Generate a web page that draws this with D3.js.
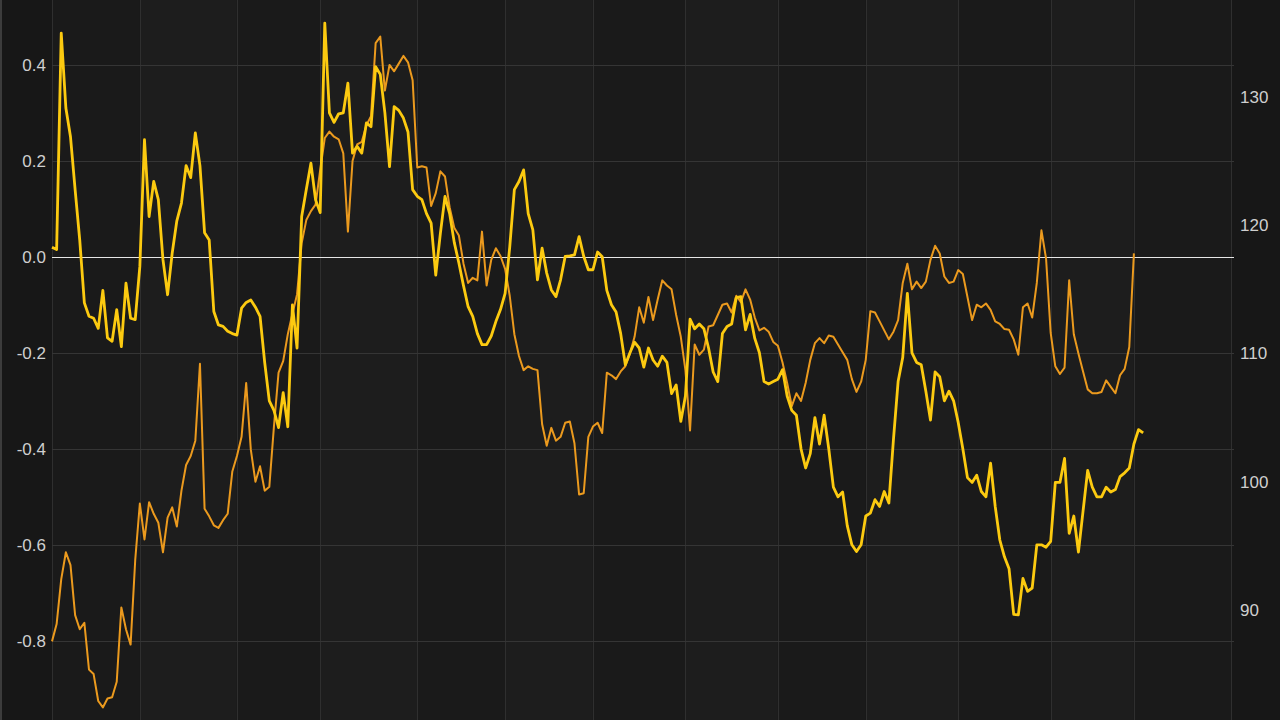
<!DOCTYPE html>
<html>
<head>
<meta charset="utf-8">
<script src="https://cdn.jsdelivr.net/npm/d3@7/dist/d3.min.js"></script>
<style>
  html, body { margin: 0; padding: 0; background: #171717; overflow: hidden; }
  svg { display: block; }
</style>
</head>
<body>
<svg id="chart" width="1280" height="720"></svg>
<script>
// ---- data ----
// trading-day index of the monthly vertical gridlines
const gridDays = [0, 19, 40, 58, 79, 98, 117, 137, 157, 176, 196, 216, 234, 255];
const leftTicks = [-0.8, -0.6, -0.4, -0.2, 0.0, 0.2, 0.4];
const rightTicks = [90, 100, 110, 120, 130];

// yellow series (left axis), one value per trading day
const yellowSeries = [
  0.02, 0.015, 0.466, 0.31, 0.25, 0.14, 0.035, -0.096, -0.124, -0.128,
  -0.149, -0.07, -0.169, -0.176, -0.11, -0.187, -0.055, -0.128, -0.131, -0.02,
  0.244, 0.084, 0.157, 0.119, -0.006, -0.079, 0.008, 0.075, 0.112, 0.19,
  0.165, 0.258, 0.19, 0.05, 0.035, -0.114, -0.142, -0.145, -0.155, -0.16,
  -0.163, -0.107, -0.095, -0.09, -0.105, -0.124, -0.22, -0.3, -0.32, -0.356,
  -0.283, -0.354, -0.1, -0.19, 0.084, 0.14, 0.195, 0.119, 0.092, 0.487,
  0.3, 0.28, 0.298, 0.3, 0.362, 0.216, 0.23, 0.216, 0.279, 0.271,
  0.396, 0.38, 0.3, 0.188, 0.313, 0.305, 0.289, 0.26, 0.14, 0.126,
  0.119, 0.09, 0.07, -0.038, 0.049, 0.126, 0.09, 0.03, -0.013, -0.06,
  -0.104, -0.124, -0.16, -0.183, -0.183, -0.165, -0.135, -0.11, -0.076, 0.02,
  0.14, 0.157, 0.181, 0.09, 0.056, -0.048, 0.018, -0.034, -0.069, -0.083,
  -0.048, 0.001, 0.002, 0.004, 0.042, 0.001, -0.027, -0.027, 0.01, 0.0,
  -0.07, -0.1, -0.115, -0.16, -0.225, -0.2, -0.178, -0.19, -0.23, -0.19,
  -0.215, -0.228, -0.207, -0.22, -0.285, -0.267, -0.343, -0.29, -0.13, -0.15,
  -0.14, -0.15, -0.19, -0.24, -0.26, -0.16, -0.145, -0.14, -0.085, -0.083,
  -0.152, -0.12, -0.17, -0.2, -0.26, -0.265, -0.26, -0.255, -0.235, -0.29,
  -0.32, -0.33, -0.4, -0.44, -0.41, -0.335, -0.39, -0.33, -0.4, -0.48,
  -0.5, -0.49, -0.56, -0.6, -0.614, -0.6, -0.54, -0.534, -0.506, -0.52,
  -0.489, -0.513, -0.38, -0.26, -0.21, -0.076, -0.2, -0.22, -0.225, -0.28,
  -0.34, -0.24, -0.25, -0.3, -0.28, -0.3, -0.345, -0.4, -0.46, -0.47,
  -0.455, -0.489, -0.5, -0.43, -0.52, -0.59, -0.625, -0.65, -0.745, -0.746,
  -0.67, -0.697, -0.69, -0.6, -0.6, -0.605, -0.593, -0.47, -0.47, -0.42,
  -0.576, -0.54, -0.615, -0.53, -0.445, -0.48, -0.5, -0.5, -0.48, -0.49,
  -0.485, -0.458, -0.45, -0.44, -0.39, -0.36, -0.367
];

// orange series (right axis), one value per trading day
const orangeSeries = [
  87.55, 88.9, 92.4, 94.5, 93.5, 89.6, 88.5, 89.0, 85.35, 85.0,
  82.9, 82.4, 83.1, 83.2, 84.4, 90.2, 88.5, 87.3, 93.9, 98.3,
  95.5, 98.4, 97.5, 96.8, 94.5, 97.2, 98.0, 96.5, 99.3, 101.3,
  102.0, 103.2, 109.2, 97.9, 97.3, 96.6, 96.4, 97.0, 97.5, 100.8,
  102.0, 103.5, 107.7, 102.5, 100.0, 101.2, 99.3, 99.6, 104.3, 108.5,
  109.4, 111.5, 113.1, 114.6, 118.6, 120.4, 121.1, 121.6, 124.3, 126.8,
  127.3, 126.9, 126.7, 125.6, 119.5, 125.0, 126.3, 126.5, 127.8, 128.5,
  134.2, 134.7, 130.5, 132.5, 132.0, 132.6, 133.2, 132.7, 131.3, 124.5,
  124.6, 124.5, 121.5, 122.5, 124.2, 123.8, 121.4, 119.8, 119.2, 117.0,
  115.5, 115.9, 115.7, 119.5, 115.3, 117.3, 118.2, 117.6, 116.6, 114.5,
  111.5, 109.8, 108.7, 109.0, 108.8, 108.7, 104.5, 102.8, 104.2, 103.2,
  103.5, 104.6, 104.7, 103.0, 99.0, 99.1, 103.5, 104.3, 104.6, 103.8,
  108.5, 108.3, 108.0, 108.6, 109.0, 110.0, 111.3, 113.6, 112.4, 114.4,
  112.6, 114.2, 115.7, 115.3, 115.0, 113.0, 111.3, 108.7, 104.0, 110.7,
  109.9, 110.3, 112.1, 112.2, 113.0, 113.8, 113.9, 113.2, 114.5, 114.0,
  115.0, 114.2, 112.8, 111.8, 112.0, 111.7, 110.9, 110.6, 109.3, 107.7,
  105.9, 106.9, 106.3, 107.7, 109.5, 110.8, 111.2, 110.8, 111.4, 111.3,
  110.7, 110.1, 109.5, 108.0, 107.0, 107.8, 109.5, 113.3, 113.2, 112.5,
  111.8, 111.1, 111.7, 112.6, 115.5, 117.0, 115.0, 115.6, 115.1, 115.6,
  117.3, 118.4, 117.8, 116.0, 115.5, 115.6, 116.5, 116.2, 114.4, 112.6,
  113.8, 113.6, 113.9, 113.4, 112.5, 112.3, 111.9, 111.85, 111.1, 109.9,
  113.6, 113.9, 112.8, 115.5, 119.6, 117.4, 111.6, 109.0, 108.4, 108.9,
  115.7, 111.5, 110.0, 108.6, 107.2, 106.9, 106.9, 107.0, 107.9, 107.4,
  106.9, 108.3, 108.8, 110.5, 117.8
];

// ---- layout ----
const W = 1280, H = 720;
const plotLeft = 52, plotRight = 1231;

const svg = d3.select('#chart');

const x = d3.scaleLinear().domain([0, 255]).range([plotLeft, plotRight]);
const yL = d3.scaleLinear().domain([-0.965, 0.535]).range([H, 0]);
const yR = d3.scaleLinear().domain([81.42, 137.56]).range([H, 0]);

// alternating vertical bands
const bands = d3.pairs(gridDays);
svg.append('g').selectAll('rect').data(bands).join('rect')
  .attr('x', d => x(d[0]))
  .attr('y', 0)
  .attr('width', d => x(d[1]) - x(d[0]))
  .attr('height', H)
  .attr('fill', (d, i) => i % 2 ? '#1d1d1d' : '#1a1a1a');

// left edge strip
svg.append('rect').attr('x', 0).attr('y', 0).attr('width', 2).attr('height', H).attr('fill', '#3c3c3c');

// vertical gridlines
svg.append('g').selectAll('line').data(gridDays).join('line')
  .attr('x1', d => Math.round(x(d)) + 0.5).attr('x2', d => Math.round(x(d)) + 0.5)
  .attr('y1', 0).attr('y2', H)
  .attr('stroke', '#2f2f2f').attr('stroke-width', 1);

// horizontal gridlines (left axis ticks)
svg.append('g').selectAll('line').data(leftTicks.filter(t => t !== 0)).join('line')
  .attr('x1', plotLeft).attr('x2', plotRight + 3)
  .attr('y1', d => Math.round(yL(d)) + 0.5).attr('y2', d => Math.round(yL(d)) + 0.5)
  .attr('stroke', '#353535').attr('stroke-width', 1);

// left axis labels
const leftAxis = d3.axisLeft(yL).tickValues(leftTicks).tickSize(0).tickPadding(0)
  .tickFormat(d => d.toFixed(1));
const gL = svg.append('g').attr('transform', `translate(${plotLeft - 6},0)`).call(leftAxis);
gL.select('.domain').remove();
gL.selectAll('text')
  .attr('fill', '#cfcfcf')
  .style('font-family', '"Liberation Sans", Arial, sans-serif')
  .style('font-size', '17px');

// right axis labels
const rightAxis = d3.axisRight(yR).tickValues(rightTicks).tickSize(0).tickPadding(0)
  .tickFormat(d3.format('d'));
const gR = svg.append('g').attr('transform', `translate(${plotRight + 9},0)`).call(rightAxis);
gR.select('.domain').remove();
gR.selectAll('text')
  .attr('fill', '#cfcfcf')
  .style('font-family', '"Liberation Sans", Arial, sans-serif')
  .style('font-size', '17px');

// zero line
svg.append('line')
  .attr('x1', plotLeft).attr('x2', plotRight + 3)
  .attr('y1', Math.round(yL(0)) + 0.5).attr('y2', Math.round(yL(0)) + 0.5)
  .attr('stroke', '#e6e6e6').attr('stroke-width', 1.2);

// lines
const lineR = d3.line().x((d, i) => x(i)).y(d => yR(d));
const lineL = d3.line().x((d, i) => x(i)).y(d => yL(d));

svg.append('path').datum(orangeSeries)
  .attr('d', lineR)
  .attr('fill', 'none')
  .attr('stroke', '#eb9a1e')
  .attr('stroke-width', 2)
  .attr('stroke-linejoin', 'round');

svg.append('path').datum(yellowSeries)
  .attr('d', lineL)
  .attr('fill', 'none')
  .attr('stroke', '#fcca10')
  .attr('stroke-width', 2.8)
  .attr('stroke-linejoin', 'round');
</script>
</body>
</html>
